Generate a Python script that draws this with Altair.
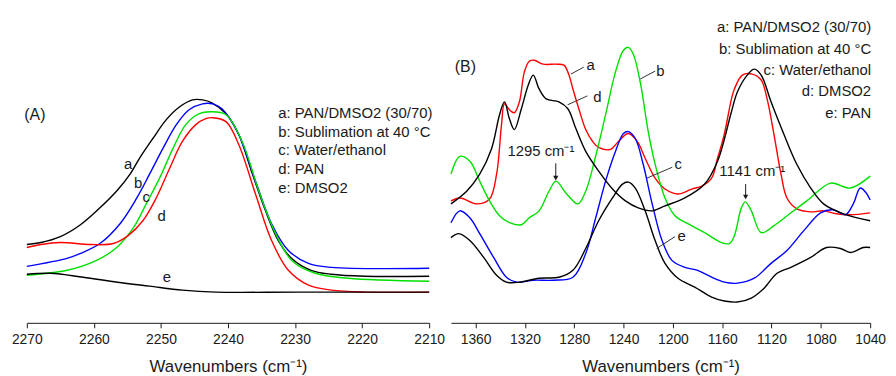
import altair as alt
import pandas as pd

FONT = "Liberation Sans"
INK = "#1a1a1a"

# ---------------- Panel A (C≡N region), arbitrary absorbance units ----------------
A_a_wn = [2270, 2267.9, 2265, 2262, 2259.1, 2256.6, 2254.6, 2253.2, 2251.2, 2249.2, 2247.2, 2245.3, 2243.8, 2242.4, 2240.3, 2238.4, 2236.5, 2234.4, 2232.5, 2230.5, 2227.6, 2224.6, 2219.6, 2210]
A_a_val = [0.79, 0.81, 0.87, 0.99, 1.16, 1.33, 1.50, 1.66, 1.86, 2.05, 2.18, 2.25, 2.25, 2.22, 2.11, 1.90, 1.53, 1.13, 0.83, 0.65, 0.53, 0.49, 0.47, 0.47]

A_b_wn = [2270, 2264, 2262, 2259.1, 2256.1, 2253.6, 2251.7, 2249.7, 2247.7, 2245.8, 2243.8, 2242.3, 2240.9, 2238.4, 2235.9, 2233.5, 2231, 2228, 2224.6, 2210]
A_b_val = [0.57, 0.65, 0.70, 0.80, 1.00, 1.26, 1.50, 1.76, 2.00, 2.15, 2.21, 2.21, 2.16, 1.90, 1.43, 1.00, 0.73, 0.60, 0.56, 0.55]

A_c_wn = [2270, 2264, 2259.6, 2256.6, 2254.1, 2252.2, 2250.2, 2248.2, 2246.3, 2244.3, 2242.6, 2240.3, 2237.9, 2235.4, 2232.9, 2230.5, 2227, 2222.1, 2210]
A_c_val = [0.48, 0.53, 0.63, 0.76, 0.96, 1.20, 1.46, 1.76, 2.00, 2.11, 2.13, 2.10, 1.83, 1.33, 0.90, 0.63, 0.50, 0.45, 0.42]

A_d_wn = [2270, 2267.9, 2265, 2260.5, 2257.1, 2254.9, 2252.7, 2250.7, 2248.7, 2246.8, 2244.8, 2243.3, 2242.3, 2240.3, 2238.4, 2235.9, 2233.5, 2231, 2228, 2224.6, 2219.6, 2210]
A_d_val = [0.76, 0.79, 0.81, 0.79, 0.80, 0.88, 1.03, 1.26, 1.56, 1.83, 2.00, 2.06, 2.07, 2.03, 1.80, 1.30, 0.83, 0.53, 0.38, 0.33, 0.31, 0.31]

A_e_wn = [2270, 2266.5, 2261.6, 2256.5, 2251.7, 2246.8, 2241.8, 2229.5, 2210]
A_e_val = [0.49, 0.50, 0.46, 0.41, 0.37, 0.33, 0.31, 0.31, 0.31]

# ---------------- Panel B (1380-1040 cm-1) ----------------
B_a_wn = [1380, 1372.5, 1359.1, 1348.7, 1343, 1339, 1336.6, 1332.6, 1328.6, 1324.5, 1320.5, 1316.5, 1312.5, 1305.2, 1294.8, 1288.4, 1284.3, 1281.1, 1276.3, 1270.7, 1265.1, 1260.2, 1250.6, 1244.2, 1236.1, 1228.9, 1222.5, 1214.4, 1206.4, 1195.9, 1184.7, 1176.6, 1168.6, 1163.8, 1158.2, 1152.5, 1150.1, 1143.7, 1135.6, 1128.4, 1123.6, 1118, 1112.3, 1107.5, 1099.5, 1088.2, 1077.8, 1067.3, 1056.1, 1040]
B_a_val = [1.23, 1.26, 1.20, 1.25, 1.50, 2.00, 2.21, 2.15, 2.12, 2.23, 2.53, 2.64, 2.65, 2.61, 2.61, 2.60, 2.50, 2.36, 2.16, 1.95, 1.83, 1.77, 1.75, 1.83, 1.91, 1.83, 1.66, 1.46, 1.35, 1.30, 1.35, 1.38, 1.46, 1.66, 1.91, 2.26, 2.36, 2.50, 2.51, 2.45, 2.26, 1.90, 1.50, 1.26, 1.15, 1.12, 1.13, 1.10, 1.09, 1.11]

B_b_wn = [1380, 1372.8, 1364.7, 1356.7, 1348.7, 1340.6, 1332.6, 1322.9, 1316.5, 1308.5, 1300.4, 1294.8, 1286.8, 1277.1, 1270.7, 1263.5, 1254.6, 1246.6, 1240.1, 1236.1, 1232.1, 1226.5, 1220, 1214.4, 1206.4, 1198.3, 1187.9, 1174.2, 1160.6, 1154.1, 1150.1, 1144.5, 1141.3, 1136.4, 1128.4, 1118, 1104.3, 1091.4, 1072.1, 1056.1, 1040]
B_b_val = [1.50, 1.68, 1.63, 1.43, 1.23, 1.08, 1.01, 0.99, 1.06, 1.13, 1.33, 1.43, 1.31, 1.20, 1.33, 1.64, 2.10, 2.53, 2.75, 2.78, 2.71, 2.43, 1.93, 1.60, 1.26, 1.08, 1.00, 0.91, 0.81, 0.80, 0.88, 1.16, 1.22, 1.13, 0.91, 0.98, 1.11, 1.23, 1.41, 1.36, 1.48]

B_c_wn = [1380, 1372.8, 1364.7, 1356.7, 1345.4, 1335, 1326.9, 1313.3, 1297.2, 1281.1, 1270.7, 1262.6, 1254.6, 1246.6, 1240.1, 1236.1, 1230.5, 1224.1, 1216.8, 1208.8, 1200.8, 1190.3, 1179.9, 1168.6, 1158.2, 1147.7, 1134, 1120.4, 1107.5, 1093.8, 1080.2, 1069.7, 1060.1, 1053.7, 1048, 1043.2, 1040]
B_c_val = [1.01, 1.13, 1.06, 0.90, 0.66, 0.46, 0.41, 0.43, 0.43, 0.46, 0.70, 1.06, 1.43, 1.73, 1.91, 1.93, 1.86, 1.60, 1.20, 0.83, 0.63, 0.56, 0.53, 0.46, 0.41, 0.40, 0.45, 0.60, 0.73, 0.93, 1.11, 1.14, 1.09, 1.20, 1.36, 1.31, 1.24]

B_d_wn = [1380, 1367.1, 1356.7, 1347, 1340.6, 1336.6, 1332.6, 1328.6, 1322.9, 1317.3, 1313.3, 1308.5, 1302.8, 1292.4, 1285.2, 1278.7, 1270.7, 1260.2, 1249, 1238.5, 1228.1, 1216.8, 1206.4, 1190.3, 1174.2, 1163.8, 1152.5, 1147.7, 1139.7, 1134, 1128.4, 1120.4, 1109.9, 1099.5, 1088.2, 1077.8, 1061.7, 1040]
B_d_val = [1.20, 1.33, 1.50, 1.76, 2.10, 2.23, 2.06, 1.95, 2.16, 2.40, 2.50, 2.36, 2.26, 2.23, 2.16, 1.96, 1.73, 1.53, 1.35, 1.23, 1.16, 1.13, 1.18, 1.26, 1.40, 1.63, 2.13, 2.33, 2.50, 2.56, 2.50, 2.23, 1.90, 1.60, 1.36, 1.20, 1.10, 1.03]

B_e_wn = [1380, 1373.6, 1364.7, 1353.5, 1343, 1335, 1324.5, 1308.5, 1292.4, 1281.1, 1270.7, 1260.2, 1249, 1240.9, 1236.1, 1230.5, 1222.5, 1214.4, 1206.4, 1195.9, 1182.3, 1168.6, 1158.2, 1147.7, 1136.4, 1126, 1115.5, 1104.3, 1088.2, 1075.4, 1064.1, 1056.1, 1045.6, 1040]
B_e_val = [0.86, 0.90, 0.83, 0.66, 0.48, 0.41, 0.41, 0.45, 0.46, 0.53, 0.75, 1.03, 1.26, 1.40, 1.42, 1.36, 1.13, 0.83, 0.60, 0.45, 0.36, 0.26, 0.22, 0.21, 0.25, 0.35, 0.50, 0.56, 0.66, 0.76, 0.75, 0.71, 0.76, 0.76]

# Legends / labels
A_legend = ["a: PAN/DMSO2 (30/70)", "b: Sublimation at 40 °C", "c: Water/ethanol", "d: PAN", "e: DMSO2"]
A_legend_val = [2.12, 1.93, 1.74, 1.55, 1.36]
A_legend_wn = 2232.5
B_legend = ["a: PAN/DMSO2 (30/70)", "b: Sublimation at 40 °C", "c: Water/ethanol", "d: DMSO2", "e: PAN"]
B_legend_val = [2.98, 2.765, 2.55, 2.335, 2.12]
B_legend_wn = 1039.2

A_tags = ["a", "b", "c", "d", "e"]
A_tag_wn = [2254.9, 2253.4, 2252.2, 2249.9, 2249.1]
A_tag_val = [1.60, 1.41, 1.27, 1.08, 0.46]

B_tags = ["a", "d", "b", "c", "e"]
B_tag_wn = [1266.7, 1261.3, 1210.2, 1195.7, 1192.9]
B_tag_val = [2.60, 2.28, 2.54, 1.60, 0.88]
B_lead_wn1 = [1282.7, 1285.4, 1226.5, 1221.1, 1213.1]
B_lead_val1 = [2.51, 2.20, 2.46, 1.46, 0.75]
B_lead_wn2 = [1272.3, 1269.3, 1214.4, 1200.5, 1198.3]
B_lead_val2 = [2.58, 2.29, 2.54, 1.57, 0.87]

B_peaks = ["1295 cm⁻¹", "1141 cm⁻¹"]
B_peak_text_wn = [1307.0, 1135.6]
B_peak_text_val = [1.73, 1.53]
B_arrow_wn = [1295, 1141]
B_arrow_top = [1.61, 1.40]
B_arrow_tip = [1.46, 1.27]

A_colors = {"a": "#000000", "b": "#0000ff", "c": "#00e000", "d": "#ff0000", "e": "#000000"}
B_colors = {"a": "#ff0000", "b": "#00e000", "c": "#0000ff", "d": "#000000", "e": "#000000"}


def lines_df(series, colors):
    rows = []
    for key, (wn, val) in series.items():
        for w, v in zip(wn, val):
            rows.append({"wn": w, "val": v, "series": key, "col": colors[key]})
    return pd.DataFrame(rows)


dfA = lines_df({"a": (A_a_wn, A_a_val), "b": (A_b_wn, A_b_val), "c": (A_c_wn, A_c_val),
                "d": (A_d_wn, A_d_val), "e": (A_e_wn, A_e_val)}, A_colors)
dfB = lines_df({"a": (B_a_wn, B_a_val), "b": (B_b_wn, B_b_val), "c": (B_c_wn, B_c_val),
                "d": (B_d_wn, B_d_val), "e": (B_e_wn, B_e_val)}, B_colors)

YS = alt.Scale(domain=[0, 3.13], nice=False, zero=False)
TITLE = "Wavenumbers (cm⁻¹)"


def x_axis(values, major_mod):
    return alt.Axis(
        values=values, format="d", title=TITLE,
        labelExpr=f"datum.value % {major_mod} == 0 ? datum.label : ''",
        tickSize={"condition": {"test": f"datum.value % {major_mod} == 0", "value": 5}, "value": 3},
        labelFlush=False, labelOverlap=False, grid=False,
    )


xA = alt.X("wn:Q", scale=alt.Scale(domain=[2210, 2270], reverse=True, nice=False, zero=False),
           axis=x_axis(list(range(2270, 2205, -5)), 10))
xB = alt.X("wn:Q", scale=alt.Scale(domain=[1040, 1380], reverse=True, nice=False, zero=False),
           axis=x_axis(list(range(1380, 1035, -20)), 40))
Y = alt.Y("val:Q", scale=YS, axis=None)


def text_layer(df, align, size=15):
    return alt.Chart(df).mark_text(align=align, baseline="middle", fontSize=size, color=INK, font=FONT).encode(
        x="wn:Q", y="val:Q", text="t:N")


# Panel A
linesA = alt.Chart(dfA).mark_line(interpolate="catmull-rom", strokeWidth=1.4).encode(
    x=xA, y=Y, color=alt.Color("col:N", scale=None), detail="series:N")
legA = text_layer(pd.DataFrame({"wn": [A_legend_wn] * 5, "val": A_legend_val, "t": A_legend}), "left")
tagA = text_layer(pd.DataFrame({"wn": A_tag_wn, "val": A_tag_val, "t": A_tags}), "center")
nameA = text_layer(pd.DataFrame({"wn": [2268.8], "val": [2.10], "t": ["(A)"]}), "center", 16)
left = alt.layer(linesA, legA, tagA, nameA).properties(width=406, height=313)

# Panel B
linesB = alt.Chart(dfB).mark_line(interpolate="catmull-rom", strokeWidth=1.4).encode(
    x=xB, y=Y, color=alt.Color("col:N", scale=None), detail="series:N")
legB = text_layer(pd.DataFrame({"wn": [B_legend_wn] * 5, "val": B_legend_val, "t": B_legend}), "right")
tagB = text_layer(pd.DataFrame({"wn": B_tag_wn, "val": B_tag_val, "t": B_tags}), "center")
leadB = alt.Chart(pd.DataFrame({"wn": B_lead_wn1, "val": B_lead_val1, "wn2": B_lead_wn2, "val2": B_lead_val2})).mark_rule(
    color="#333333", strokeWidth=1).encode(x="wn:Q", y="val:Q", x2="wn2:Q", y2="val2:Q")
peakB = text_layer(pd.DataFrame({"wn": B_peak_text_wn, "val": B_peak_text_val, "t": B_peaks}), "center")
arrowDf = pd.DataFrame({"wn": B_arrow_wn, "top": B_arrow_top, "tip": B_arrow_tip})
shaftB = alt.Chart(arrowDf).mark_rule(color=INK, strokeWidth=1).encode(x="wn:Q", y="top:Q", y2="tip:Q")
headB = alt.Chart(arrowDf).mark_point(shape="triangle-down", filled=True, size=28, color=INK, opacity=1).encode(
    x="wn:Q", y="tip:Q")
nameB = text_layer(pd.DataFrame({"wn": [1368.3], "val": [2.58], "t": ["(B)"]}), "center", 16)
right = alt.layer(linesB, leadB, tagB, legB, peakB, shaftB, headB, nameB).properties(width=423, height=313)

chart = alt.hconcat(left, right, spacing=22, bounds="flush").properties(
    padding={"left": 3, "top": 3, "right": 2, "bottom": 2}
).configure(font=FONT).configure_view(stroke=None).configure_axis(
    domainColor=INK, tickColor=INK, labelColor=INK, titleColor=INK,
    labelFont=FONT, titleFont=FONT, labelFontSize=14, titleFontSize=17,
    titleFontWeight="normal", labelPadding=5, titlePadding=12, domainWidth=1, tickWidth=1,
)

chart.save("out.html", embed_options={"renderer": "svg", "actions": False})
